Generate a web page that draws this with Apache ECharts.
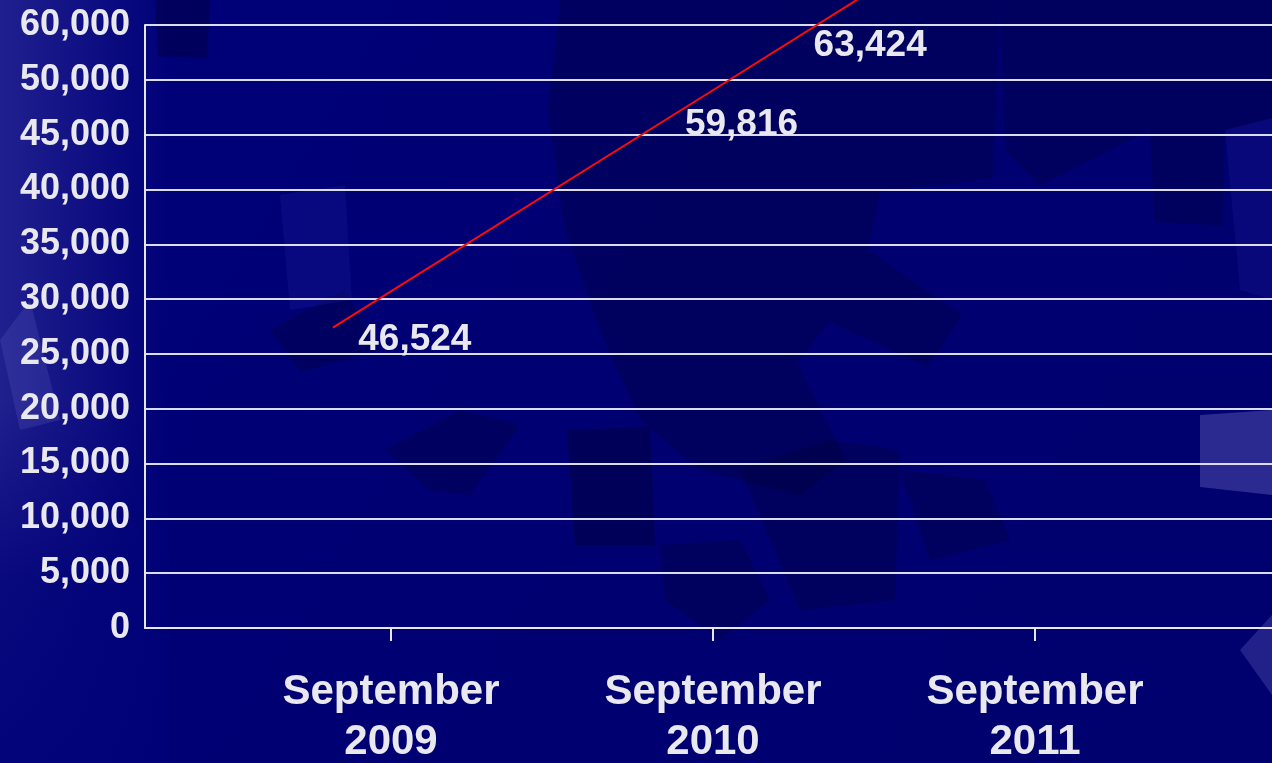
<!DOCTYPE html>
<html>
<head>
<meta charset="utf-8">
<script src="https://cdn.jsdelivr.net/npm/echarts@6/dist/echarts.min.js"></script>
<style>
  html, body { margin: 0; padding: 0; background: #000078; }
  #main { width: 1272px; height: 763px; }
</style>
</head>
<body>
<div id="main"></div>
<script>
// categories on the x axis
var categories = ['September\n2009', 'September\n2010', 'September\n2011'];
var lineValues = [27400, 48800, 70300];
// numbers printed next to the line
var labelValues = [46524, 59816, 63424];
// y tick labels, bottom to top (the top one reads 60,000 on the slide)
var yLabels = ['0', '5,000', '10,000', '15,000', '20,000', '25,000', '30,000',
  '35,000', '40,000', '45,000', '50,000', '60,000'];

var FONT = '"Liberation Sans", Arial, Helvetica, sans-serif';
var TXT = '#e8e8ee';
var labelOffsets = [[82, 12], [33, 32], [-214, 189]];

var chartDom = document.getElementById('main');
var myChart = echarts.init(chartDom);

// background confetti shapes (decoration only)
function poly(points, fill) {
  return { type: 'polygon', z: -10, silent: true, shape: { points: points }, style: { fill: fill } };
}
var dark = 'rgba(0, 0, 40, 0.25)';
var darker = 'rgba(0, 0, 30, 0.3)';
var light = 'rgba(40, 40, 170, 0.2)';
var bgShapes = [
  { type: 'rect', z: -11, silent: true, shape: { x: 0, y: 0, width: 170, height: 763 },
    style: { fill: new echarts.graphic.LinearGradient(0, 0, 1, 0, [
      { offset: 0, color: 'rgba(70,70,170,0.45)' }, { offset: 1, color: 'rgba(70,70,170,0)' }]) } },
  { type: 'rect', z: -11, silent: true, shape: { x: 0, y: 400, width: 170, height: 363 },
    style: { fill: new echarts.graphic.LinearGradient(0, 0, 0, 1, [
      { offset: 0, color: 'rgba(0,0,120,0)' }, { offset: 0.5, color: 'rgba(0,0,120,0.7)' }, { offset: 1, color: 'rgba(0,0,120,0.9)' }]) } },
  poly([[155, 0], [210, 0], [207, 58], [158, 56]], darker),
  poly([[560, 0], [1000, 0], [993, 178], [880, 192], [868, 250], [962, 315], [928, 367], [830, 322], [797, 362], [846, 460], [800, 495], [700, 470], [640, 420], [600, 330], [565, 230], [548, 110]], dark),
  poly([[1000, 0], [1272, 0], [1272, 118], [1225, 130], [1222, 225], [1155, 222], [1150, 130], [1040, 185], [1005, 150]], dark),
  poly([[270, 330], [345, 290], [380, 350], [300, 372]], dark),
  poly([[385, 450], [460, 410], [520, 425], [470, 495], [430, 490]], dark),
  poly([[567, 430], [650, 427], [655, 545], [575, 545]], darker),
  poly([[660, 545], [740, 540], [770, 600], [720, 640], [665, 600]], dark),
  poly([[740, 470], [830, 440], [900, 450], [895, 600], [800, 610]], dark),
  poly([[900, 470], [985, 480], [1010, 540], [930, 560]], dark),
  poly([[280, 195], [345, 185], [352, 300], [290, 310]], light),
  poly([[1225, 130], [1272, 118], [1272, 300], [1240, 290]], light),
  poly([[1200, 415], [1272, 410], [1272, 495], [1200, 487]], 'rgba(120,120,210,0.35)'),
  poly([[1240, 650], [1272, 615], [1272, 695]], 'rgba(120,120,210,0.28)'),
  poly([[0, 340], [30, 300], [60, 420], [20, 430]], 'rgba(120,120,210,0.18)')
];

var option = {
  backgroundColor: new echarts.graphic.LinearGradient(0, 0, 1, 1, [
    { offset: 0, color: '#00007a' },
    { offset: 0.5, color: '#000072' },
    { offset: 1, color: '#00006e' }
  ]),
  animation: false,
  graphic: { elements: bgShapes },
  grid: [
    { left: 145, right: 0, top: 25, bottom: 135, outerBoundsMode: 'none' },
    { left: 230, width: 966, top: 25, bottom: 135, outerBoundsMode: 'none' }
  ],
  xAxis: [
    {
      type: 'category',
      gridIndex: 0,
      data: categories,
      boundaryGap: true,
      axisLine: { lineStyle: { color: '#e6e6ee', width: 2 } },
      axisTick: { show: false },
      axisLabel: { show: false }
    },
    {
      type: 'category',
      gridIndex: 1,
      data: categories,
      boundaryGap: true,
      axisLine: { show: false },
      axisTick: { show: true, alignWithLabel: true, length: 13, lineStyle: { color: '#e6e6ee', width: 2 } },
      axisLabel: {
        color: TXT,
        fontFamily: FONT,
        fontWeight: 'bold',
        fontSize: 42,
        lineHeight: 50,
        margin: 39
      }
    }
  ],
  yAxis: [
    {
      type: 'value',
      gridIndex: 0,
      min: 0,
      max: 55000,
      interval: 5000,
      axisLine: { show: true, lineStyle: { color: '#e6e6ee', width: 2 } },
      axisTick: { show: false },
      splitLine: { lineStyle: { color: '#dcdce8', width: 2 } },
      axisLabel: {
        color: TXT,
        fontFamily: FONT,
        fontWeight: 'bold',
        fontSize: 36,
        margin: 15,
        padding: [0, 0, 6, 0],
        formatter: function (v) {
          return yLabels[Math.round(v / 5000)];
        }
      }
    },
    { type: 'value', gridIndex: 1, show: false }
  ],
  series: [
    {
      type: 'line',
      xAxisIndex: 0,
      yAxisIndex: 0,
      clip: false,
      symbol: 'circle',
      symbolSize: 0,
      lineStyle: { color: '#ff0a0a', width: 2 },
      itemStyle: { color: '#ff0a0a' },
      data: lineValues.map(function (v, i) {
        return { value: v, label: { offset: labelOffsets[i] } };
      }),
      label: {
        show: true,
        position: 'inside',
        color: TXT,
        fontFamily: FONT,
        fontWeight: 'bold',
        fontSize: 37,
        formatter: function (p) {
          return labelValues[p.dataIndex].toLocaleString('en-US');
        }
      }
    }
  ]
};

option && myChart.setOption(option);
</script>
</body>
</html>
